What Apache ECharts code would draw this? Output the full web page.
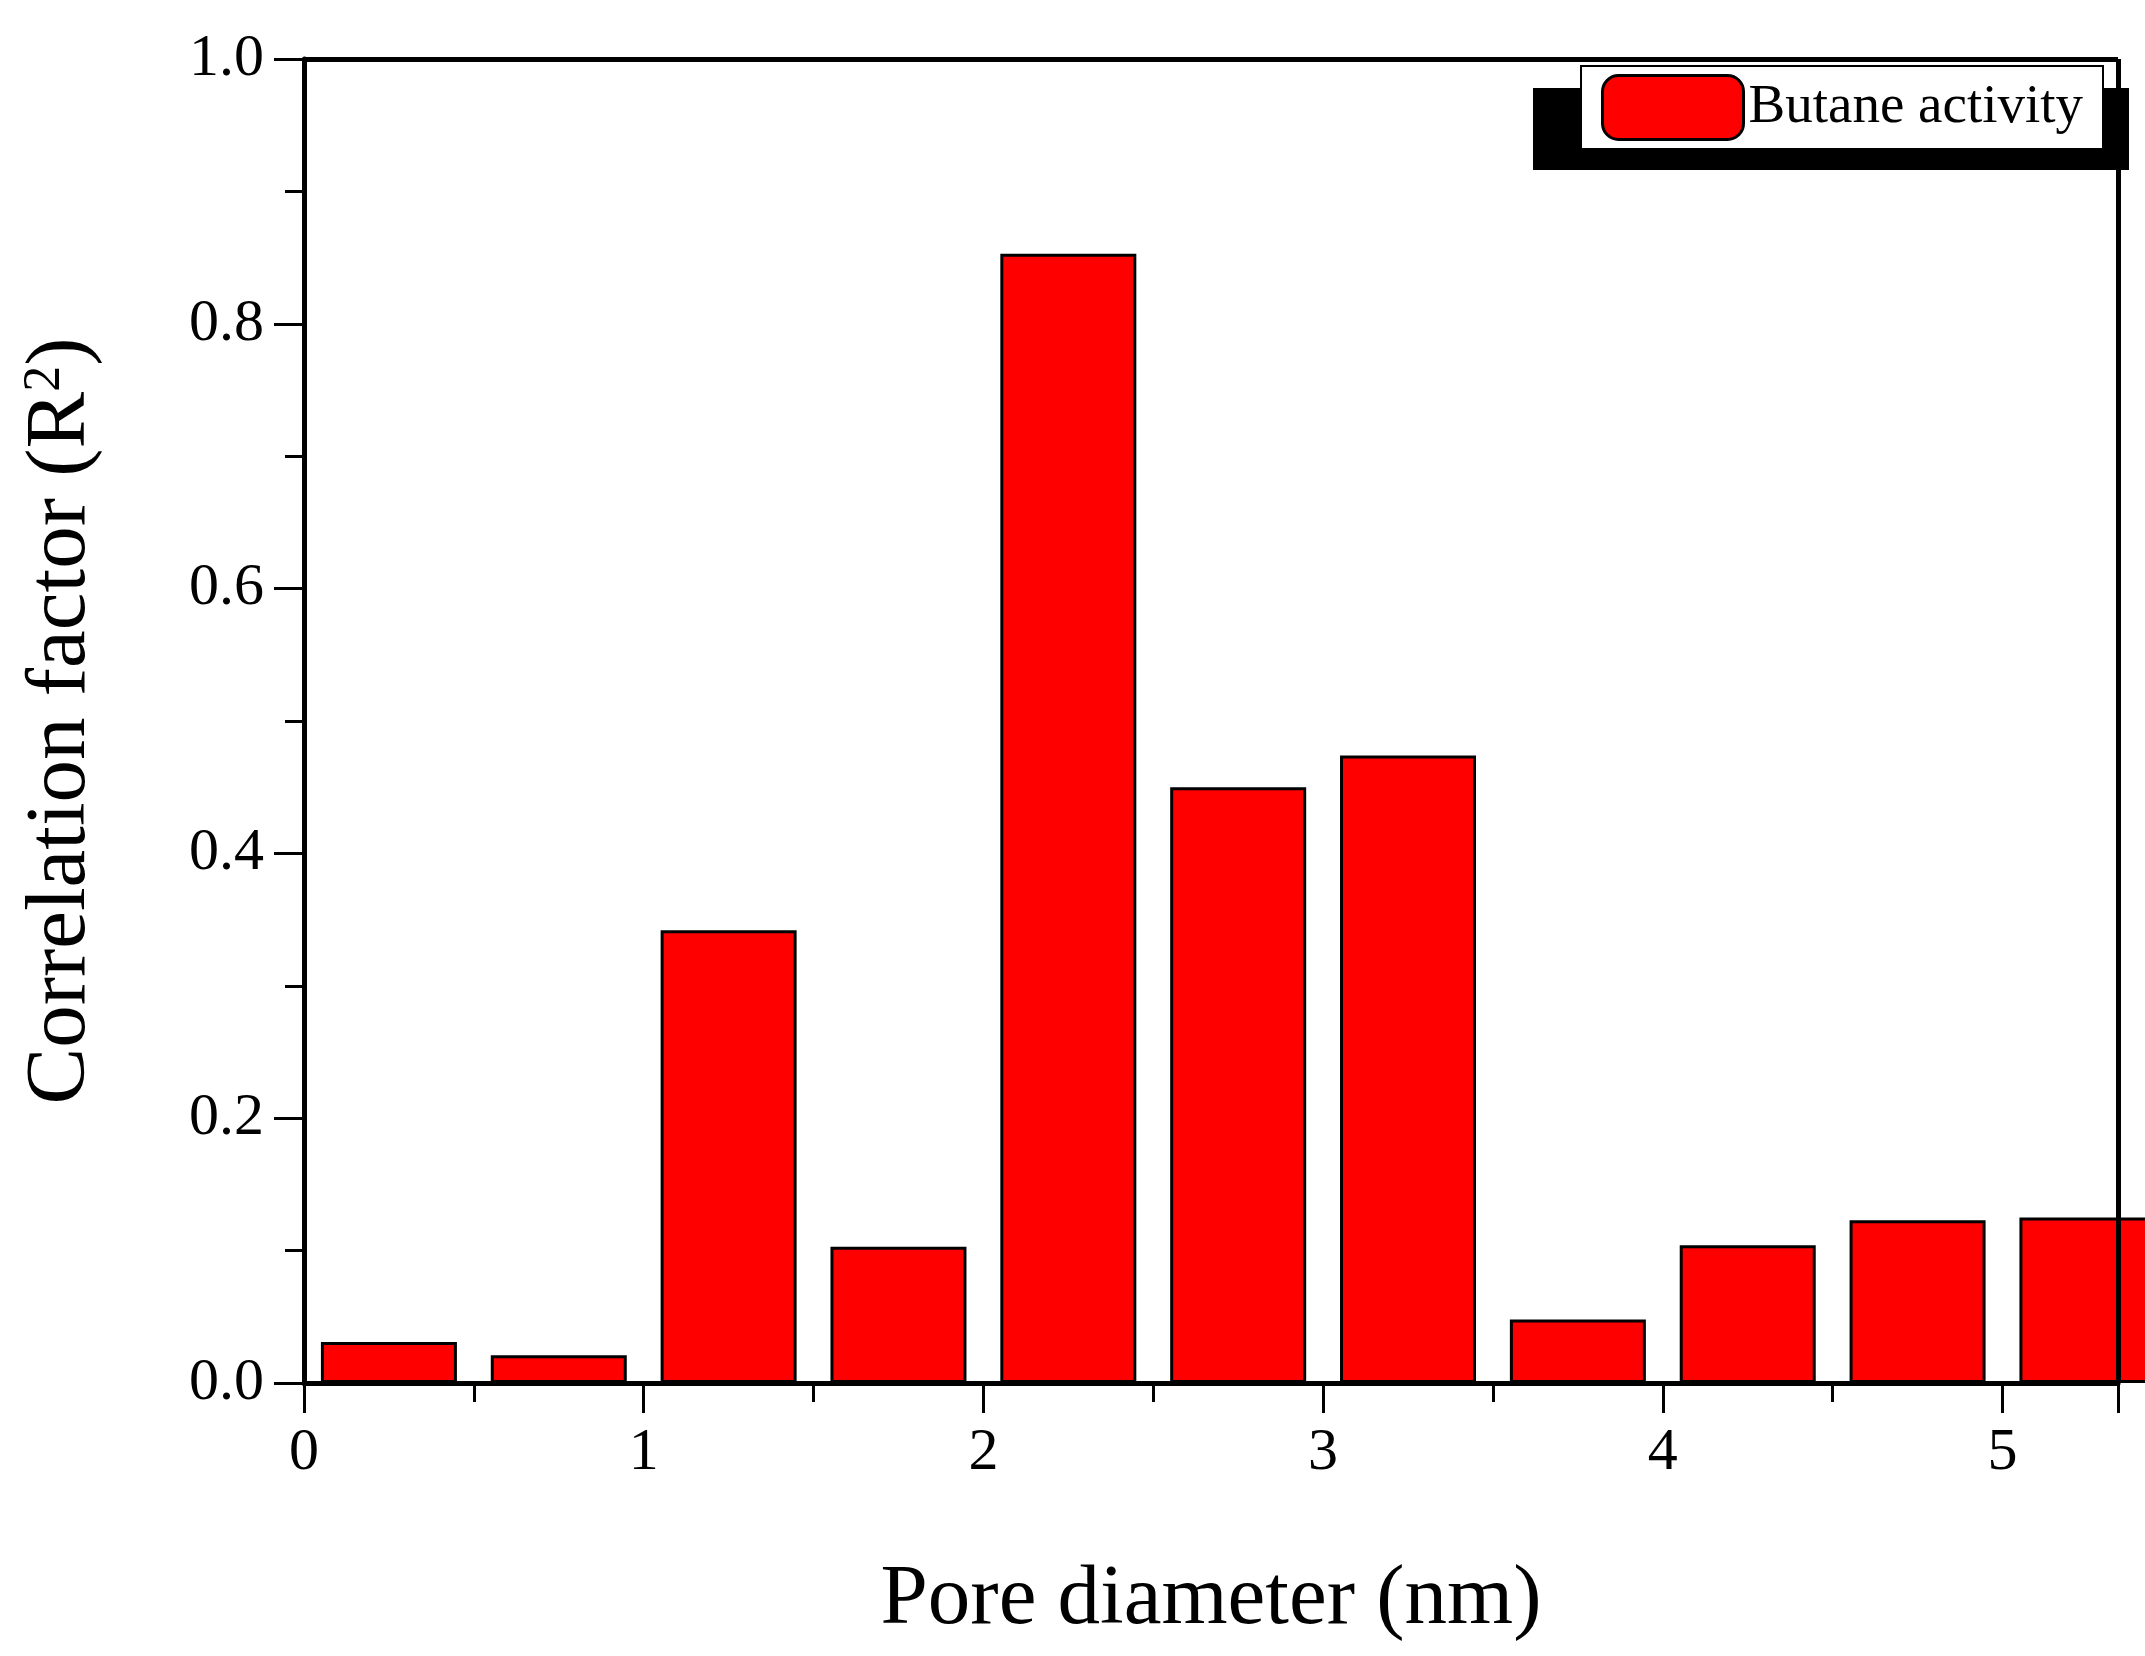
<!DOCTYPE html>
<html>
<head>
<meta charset="utf-8">
<script src="https://cdn.jsdelivr.net/npm/echarts@6/dist/echarts.min.js"></script>
<style>html,body{margin:0;background:#fff}#chart{width:2145px;height:1656px}</style>
</head>
<body>
<div id="chart"></div>
<script>
const poreCenters = [0.25, 0.75, 1.25, 1.75, 2.25, 2.75, 3.25, 3.75, 4.25, 4.75, 5.25];
const r2Values = [0.031, 0.021, 0.342, 0.103, 0.853, 0.450, 0.474, 0.048, 0.104, 0.123, 0.125];
const seriesName = "Butane activity";

const font = "Liberation Serif";
let chart = echarts.init(document.getElementById("chart"));
chart.setOption({
    animation: false,
    grid: { left: 304, right: 27, top: 59, bottom: 273 },
    legend: {
        data: [seriesName],
        right: 42, top: 66,
        itemWidth: 141, itemHeight: 64, itemGap: 10,
        padding: [8, 20, 8, 20],
        backgroundColor: "#fff",
        borderColor: "#000", borderWidth: 2,
        textStyle: { fontFamily: font, fontSize: 55, color: "#000" },
        itemStyle: { borderColor: "#000", borderWidth: 3 }
    },
    graphic: [{
        type: "rect", right: 16, top: 88, z: 0,
        shape: { width: 596, height: 82 },
        style: { fill: "#000" }
    }],
    xAxis: {
        type: "value", min: 0, max: 5.34, interval: 1,
        name: "Pore diameter (nm)", nameLocation: "middle", nameGap: 175,
        nameTextStyle: { fontFamily: font, fontSize: 85, color: "#000" },
        axisLine: { lineStyle: { color: "#000", width: 5 } },
        axisTick: { length: 30, lineStyle: { color: "#000", width: 3 } },
        minorTick: { show: true, splitNumber: 2, length: 19, lineStyle: { color: "#000", width: 3 } },
        axisLabel: { fontFamily: font, fontSize: 60, color: "#000", margin: 40,
            formatter: v => (v % 1 === 0 ? String(v) : "") },
        splitLine: { show: false }
    },
    yAxis: {
        type: "value", min: 0, max: 1, interval: 0.2,
        name: "{a|Correlation factor (R}{s|2}{a|)}", nameLocation: "middle", nameGap: 200,
        nameTextStyle: { rich: {
            a: { fontFamily: font, fontSize: 85, color: "#000" },
            s: { fontFamily: font, fontSize: 52, color: "#000", verticalAlign: "top", padding: [0, 0, 30, 0] }
        } },
        axisLine: { lineStyle: { color: "#000", width: 5 } },
        axisTick: { length: 30, lineStyle: { color: "#000", width: 3 } },
        minorTick: { show: true, splitNumber: 2, length: 19, lineStyle: { color: "#000", width: 3 } },
        axisLabel: { fontFamily: font, fontSize: 60, color: "#000", margin: 40,
            formatter: v => v.toFixed(1) },
        splitLine: { show: false }
    },
    series: [
        {
            name: seriesName, type: "bar", barWidth: 136, clip: true,
            data: poreCenters.map((x, i) => [x, r2Values[i]]),
            itemStyle: { color: "#ff0000", borderColor: "#000", borderWidth: 3 }
        },
        {
            // frame on top and right
            type: "line", silent: true, data: [],
            markLine: {
                symbol: "none", silent: true, label: { show: false },
                lineStyle: { color: "#000", width: 5, type: "solid" },
                data: [
                    [{ coord: [0, 1] }, { coord: [5.34, 1] }],
                    [{ coord: [5.34, 0] }, { coord: [5.34, 1] }]
                ]
            }
        }
    ]
});
</script>
</body>
</html>
